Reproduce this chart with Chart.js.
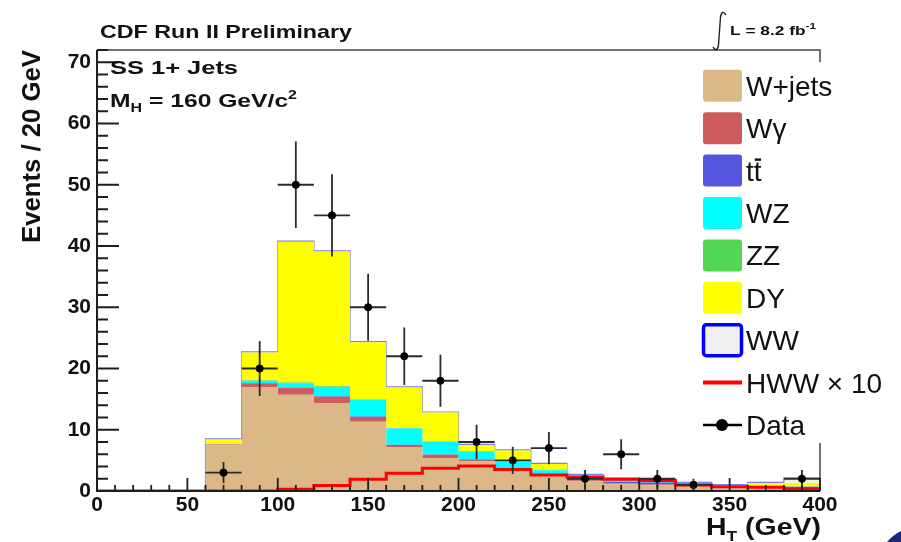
<!DOCTYPE html>
<html>
<head>
<meta charset="utf-8">
<style>
  html, body { margin: 0; padding: 0; background: #fff; }
  #wrap { width: 901px; height: 542px; }
</style>
<script src="https://cdn.jsdelivr.net/npm/chart.js@4.4.1/dist/chart.umd.min.js"></script>
</head>
<body>
<div id="wrap"><canvas id="htChart" width="901" height="542"></canvas></div>
<script>
const FONT = '"Liberation Sans", Arial, Helvetica, sans-serif';

// H_T bins, 20 GeV wide
const binEdges = [0, 20, 40, 60, 80, 100, 120, 140, 160, 180, 200, 220, 240, 260, 280, 300, 320, 340, 360, 380, 400];

// background expectations per bin (stacked bottom to top)
const wjets  = [0, 0, 0, 7.5, 17.0, 15.7, 14.3, 11.3, 7.1, 5.4, 4.8, 3.4, 2.4, 1.6, 1.2, 0.95, 0.85, 0.6, 0.5, 0.5];
const wgamma = [0, 0, 0, 0.1, 0.6, 1.1, 1.1, 0.8, 0.4, 0.5, 0.3, 0.3, 0.2, 0.15, 0.1, 0.1, 0.15, 0.15, 0.1, 0.15];
const ttbar  = [0, 0, 0, 0, 0.05, 0.05, 0.05, 0.05, 0.05, 0.05, 0.1, 0.1, 0.1, 0.15, 0.2, 0.35, 0.15, 0.05, 0.05, 0.05];
const wz     = [0, 0, 0, 0.05, 0.35, 0.75, 1.55, 2.7, 2.65, 2.05, 1.3, 1.0, 0.7, 0.5, 0.4, 0.3, 0.1, 0.05, 0.05, 0.05];
const zz     = [0, 0, 0, 0, 0.1, 0.1, 0.1, 0.1, 0.1, 0.1, 0.05, 0.05, 0.05, 0.05, 0.05, 0.05, 0, 0, 0, 0];
const dy     = [0, 0, 0, 0.75, 4.5, 23.0, 22.0, 9.35, 6.6, 4.7, 0.95, 1.75, 0.95, 0.15, 0.05, 0.05, 0.05, 0.1, 0.6, 0.6];
const ww     = [0, 0, 0, 0.1, 0.1, 0.1, 0.1, 0.1, 0.1, 0.1, 0.1, 0.1, 0.1, 0.1, 0.1, 0.1, 0.1, 0.1, 0.1, 0.75];

// signal (scaled x10) and observed events
const hwwX10   = [0, 0, 0, 0, 0, 0.3, 0.9, 1.9, 2.9, 3.7, 4.1, 3.5, 2.6, 2.3, 1.9, 1.7, 1.0, 0.7, 0.6, 0.35];
const observed = [0, 0, 0, 3, 20, 50, 45, 30, 22, 18, 8, 5, 7, 2, 6, 2, 1, 0, 0, 2];

const xTickValues = [0, 50, 100, 150, 200, 250, 300, 350, 400];
const yTickValues = [0, 10, 20, 30, 40, 50, 60, 70];
const xMinorStep = 10;
const yMinorStep = 2;

const legendOrder = ['W+jets', 'Wγ', 'tt', 'WZ', 'ZZ', 'DY', 'WW', 'HWW × 10', 'Data'];

// histogram outline: one point per left edge, last value repeated at the right edge
function toSteps(values) {
  return binEdges.map((x, i) => ({ x, y: values[Math.min(i, values.length - 1)] }));
}

const binCenters = binEdges.slice(0, -1).map((e, i) => (e + binEdges[i + 1]) / 2);
const dataPoints = observed.map((n, i) => ({ x: binCenters[i], y: n > 0 ? n : null }));

function stackSet(label, values, color, fill, extra) {
  return Object.assign({
    label,
    data: toSteps(values),
    stack: 'bkg',
    stepped: true,
    fill,
    backgroundColor: color,
    borderWidth: 0,
    pointRadius: 0
  }, extra || {});
}

const datasets = [
  {
    label: 'Data', data: dataPoints, stack: 'obs', showLine: false,
    pointRadius: 3.6, pointBackgroundColor: '#000', pointBorderColor: '#000', borderColor: '#000', legendKind: 'marker'
  },
  {
    label: 'HWW × 10', data: toSteps(hwwX10), stack: 'sig', stepped: true, fill: false,
    borderColor: '#ff0000', borderWidth: 3, pointRadius: 0, legendKind: 'line'
  },
  stackSet('W+jets', wjets, '#dcb888', 'origin'),
  stackSet('Wγ', wgamma, '#cd5c5c', '-1'),
  stackSet('tt', ttbar, '#5555dd', '-1'),
  stackSet('WZ', wz, '#00ffff', '-1'),
  stackSet('ZZ', zz, '#55d555', '-1'),
  stackSet('DY', dy, '#ffff00', '-1'),
  stackSet('WW', ww, '#f0f0f0', '-1', { borderColor: '#7c7cf0', borderWidth: 1.2, legendBorder: '#0000ff' })
];

// draws text pieces (with sub/superscripts) squeezed or stretched to a given width
function drawRuns(ctx, runs, x, y, width, align, weight) {
  let total = 0;
  runs.forEach(r => {
    ctx.font = `${weight || 'bold'} ${r.size}px ${FONT}`;
    r.w = ctx.measureText(r.text).width;
    total += r.w;
  });
  const sx = width ? width / total : 1;
  ctx.save();
  ctx.translate(x, y);
  ctx.scale(sx, 1);
  ctx.textAlign = 'left';
  ctx.textBaseline = 'alphabetic';
  let cx = align === 'right' ? -total : 0;
  runs.forEach(r => {
    ctx.font = `${weight || 'bold'} ${r.size}px ${FONT}`;
    ctx.fillText(r.text, cx, r.dy || 0);
    cx += r.w;
  });
  ctx.restore();
  return sx;
}

// Poisson error bars under the data markers
const errorBars = {
  id: 'errorBars',
  beforeDatasetDraw(chart, args) {
    if (args.index !== 0) return;
    const { ctx } = chart;
    const xs = chart.scales.x, ys = chart.scales.y;
    ctx.save();
    ctx.strokeStyle = '#2b2b2b';
    ctx.lineWidth = 1.8;
    observed.forEach((n, i) => {
      if (!n) return;
      const err = Math.sqrt(n);
      const cx = xs.getPixelForValue(binCenters[i]);
      const cy = ys.getPixelForValue(n);
      ctx.beginPath();
      ctx.moveTo(xs.getPixelForValue(binEdges[i]), cy);
      ctx.lineTo(xs.getPixelForValue(binEdges[i + 1]), cy);
      ctx.moveTo(cx, ys.getPixelForValue(n + err));
      ctx.lineTo(cx, ys.getPixelForValue(Math.max(n - err, 0)));
      ctx.stroke();
    });
    ctx.restore();
  }
};

// frame with inward ticks
const frame = {
  id: 'frame',
  afterDatasetsDraw(chart) {
    const { ctx, chartArea: a } = chart;
    const xs = chart.scales.x, ys = chart.scales.y;
    ctx.save();
    ctx.strokeStyle = '#444';
    ctx.lineWidth = 1.5;
    ctx.beginPath();
    ctx.moveTo(a.left, a.top);
    ctx.lineTo(a.right, a.top);
    ctx.lineTo(a.right, a.bottom);
    ctx.stroke();

    ctx.strokeStyle = '#1e1e1e';
    ctx.lineWidth = 2;
    ctx.beginPath();
    ctx.moveTo(a.left, a.top);
    ctx.lineTo(a.left, a.bottom);
    ctx.lineTo(a.right, a.bottom);
    ctx.stroke();

    ctx.lineWidth = 1.8;
    ctx.beginPath();
    for (let k = 0; k * yMinorStep <= ys.max; k++) {
      const v = k * yMinorStep;
      const py = ys.getPixelForValue(v);
      const len = yTickValues.includes(v) ? 22 : 11;
      ctx.moveTo(a.left, py);
      ctx.lineTo(a.left + len, py);
    }
    for (let k = 0; k * xMinorStep <= xs.max; k++) {
      const v = k * xMinorStep;
      const px = xs.getPixelForValue(v);
      const len = xTickValues.includes(v) ? 13 : 6;
      ctx.moveTo(px, a.bottom);
      ctx.lineTo(px, a.bottom - len);
    }
    ctx.stroke();
    ctx.restore();
  }
};

// titles, labels and the legend box
const overlay = {
  id: 'overlay',
  afterDraw(chart) {
    const { ctx, chartArea: a } = chart;
    ctx.save();
    ctx.fillStyle = '#111';

    drawRuns(ctx, [{ text: 'CDF Run II Preliminary', size: 18.5 }], 100, 38, 252);
    drawRuns(ctx, [{ text: 'SS 1+ Jets', size: 18.5 }], 110, 74, 128);
    drawRuns(ctx, [
      { text: 'M', size: 18.5 },
      { text: 'H', size: 12, dy: 5 },
      { text: ' = 160 GeV/c', size: 18.5 },
      { text: '2', size: 12, dy: -8 }
    ], 110, 107, 187);

    // integrated luminosity
    ctx.strokeStyle = '#222';
    ctx.lineWidth = 1.4;
    ctx.beginPath();
    ctx.moveTo(726, 15);
    ctx.quadraticCurveTo(722, 9, 720.5, 17);
    ctx.lineTo(718.5, 45);
    ctx.quadraticCurveTo(717, 53, 713, 47);
    ctx.stroke();
    drawRuns(ctx, [
      { text: 'L = 8.2 fb', size: 12.5 },
      { text: '-1', size: 8.5, dy: -6 }
    ], 730, 35, 86);

    // axis titles
    ctx.save();
    ctx.translate(40, a.top);
    ctx.rotate(-Math.PI / 2);
    drawRuns(ctx, [{ text: 'Events / 20 GeV', size: 26 }], 0, 0, 193, 'right');
    ctx.restore();
    drawRuns(ctx, [
      { text: 'H', size: 23 },
      { text: 'T', size: 14, dy: 6 },
      { text: ' (GeV)', size: 23 }
    ], 821, 535, 115, 'right');

    // legend
    ctx.fillStyle = '#fff';
    ctx.fillRect(690, 62, 211, 381);
    const x0 = 703, bw = 39, bh = 32;
    legendOrder.forEach((label, i) => {
      const ds = chart.data.datasets.find(d => d.label === label);
      const cy = 85.8 + i * 42.4;
      ctx.save();
      if (ds.legendKind === 'line') {
        ctx.strokeStyle = ds.borderColor;
        ctx.lineWidth = 4;
        ctx.beginPath();
        ctx.moveTo(x0, cy);
        ctx.lineTo(x0 + bw, cy);
        ctx.stroke();
      } else if (ds.legendKind === 'marker') {
        ctx.strokeStyle = '#000';
        ctx.lineWidth = 2.5;
        ctx.beginPath();
        ctx.moveTo(x0, cy);
        ctx.lineTo(x0 + bw, cy);
        ctx.stroke();
        ctx.fillStyle = '#000';
        ctx.beginPath();
        ctx.arc(x0 + 19, cy, 6, 0, Math.PI * 2);
        ctx.fill();
      } else {
        ctx.fillStyle = ds.backgroundColor;
        ctx.beginPath();
        ctx.roundRect(x0, cy - bh / 2, bw, bh, 3);
        ctx.fill();
        if (ds.legendBorder) {
          ctx.strokeStyle = ds.legendBorder;
          ctx.lineWidth = 3.5;
          ctx.beginPath();
          ctx.roundRect(x0 + 0.5, cy - bh / 2 + 0.5, bw - 1, bh - 1, 3);
          ctx.stroke();
        }
      }
      ctx.restore();

      ctx.fillStyle = '#111';
      const tx = 746, base = cy + 10;
      const sx = drawRuns(ctx, [{ text: label, size: 28 }], tx, base, null, 'left', 'normal');
      if (label === 'tt') {
        // bar over the second t
        ctx.font = `normal 28px ${FONT}`;
        const tw = ctx.measureText('t').width * sx;
        ctx.strokeStyle = '#111';
        ctx.lineWidth = 2.4;
        ctx.beginPath();
        ctx.moveTo(tx + tw + 1, base - 21);
        ctx.lineTo(tx + 2 * tw - 0.5, base - 21);
        ctx.stroke();
      }
    });

    // corner of the slide background
    ctx.fillStyle = '#1d2674';
    ctx.beginPath();
    ctx.moveTo(887, 542);
    ctx.quadraticCurveTo(893, 535, 901, 531);
    ctx.lineTo(901, 542);
    ctx.closePath();
    ctx.fill();

    ctx.restore();
  }
};

const tickFont = { family: FONT, size: 21, weight: 'bold' };

new Chart(document.getElementById('htChart'), {
  type: 'line',
  data: { datasets },
  options: {
    responsive: false,
    animation: false,
    devicePixelRatio: 1,
    events: [],
    layout: { padding: { top: 50, right: 81, left: 0, bottom: 0 } },
    plugins: {
      legend: { display: false },
      tooltip: { enabled: false }
    },
    scales: {
      x: {
        type: 'linear',
        min: 0,
        max: 400,
        grid: { display: false, drawTicks: false },
        border: { display: false },
        ticks: { padding: 2, color: '#111', font: tickFont, maxRotation: 0, autoSkip: false },
        afterBuildTicks: s => { s.ticks = xTickValues.map(v => ({ value: v })); },
        afterFit: s => { s.height = 51; }
      },
      y: {
        type: 'linear',
        stacked: true,
        min: 0,
        max: 72,
        grid: { display: false, drawTicks: false },
        border: { display: false },
        ticks: { padding: 6, color: '#111', font: tickFont },
        afterBuildTicks: s => { s.ticks = yTickValues.map(v => ({ value: v })); },
        afterFit: s => { s.width = 97; }
      }
    }
  },
  plugins: [errorBars, frame, overlay]
});
</script>
</body>
</html>
